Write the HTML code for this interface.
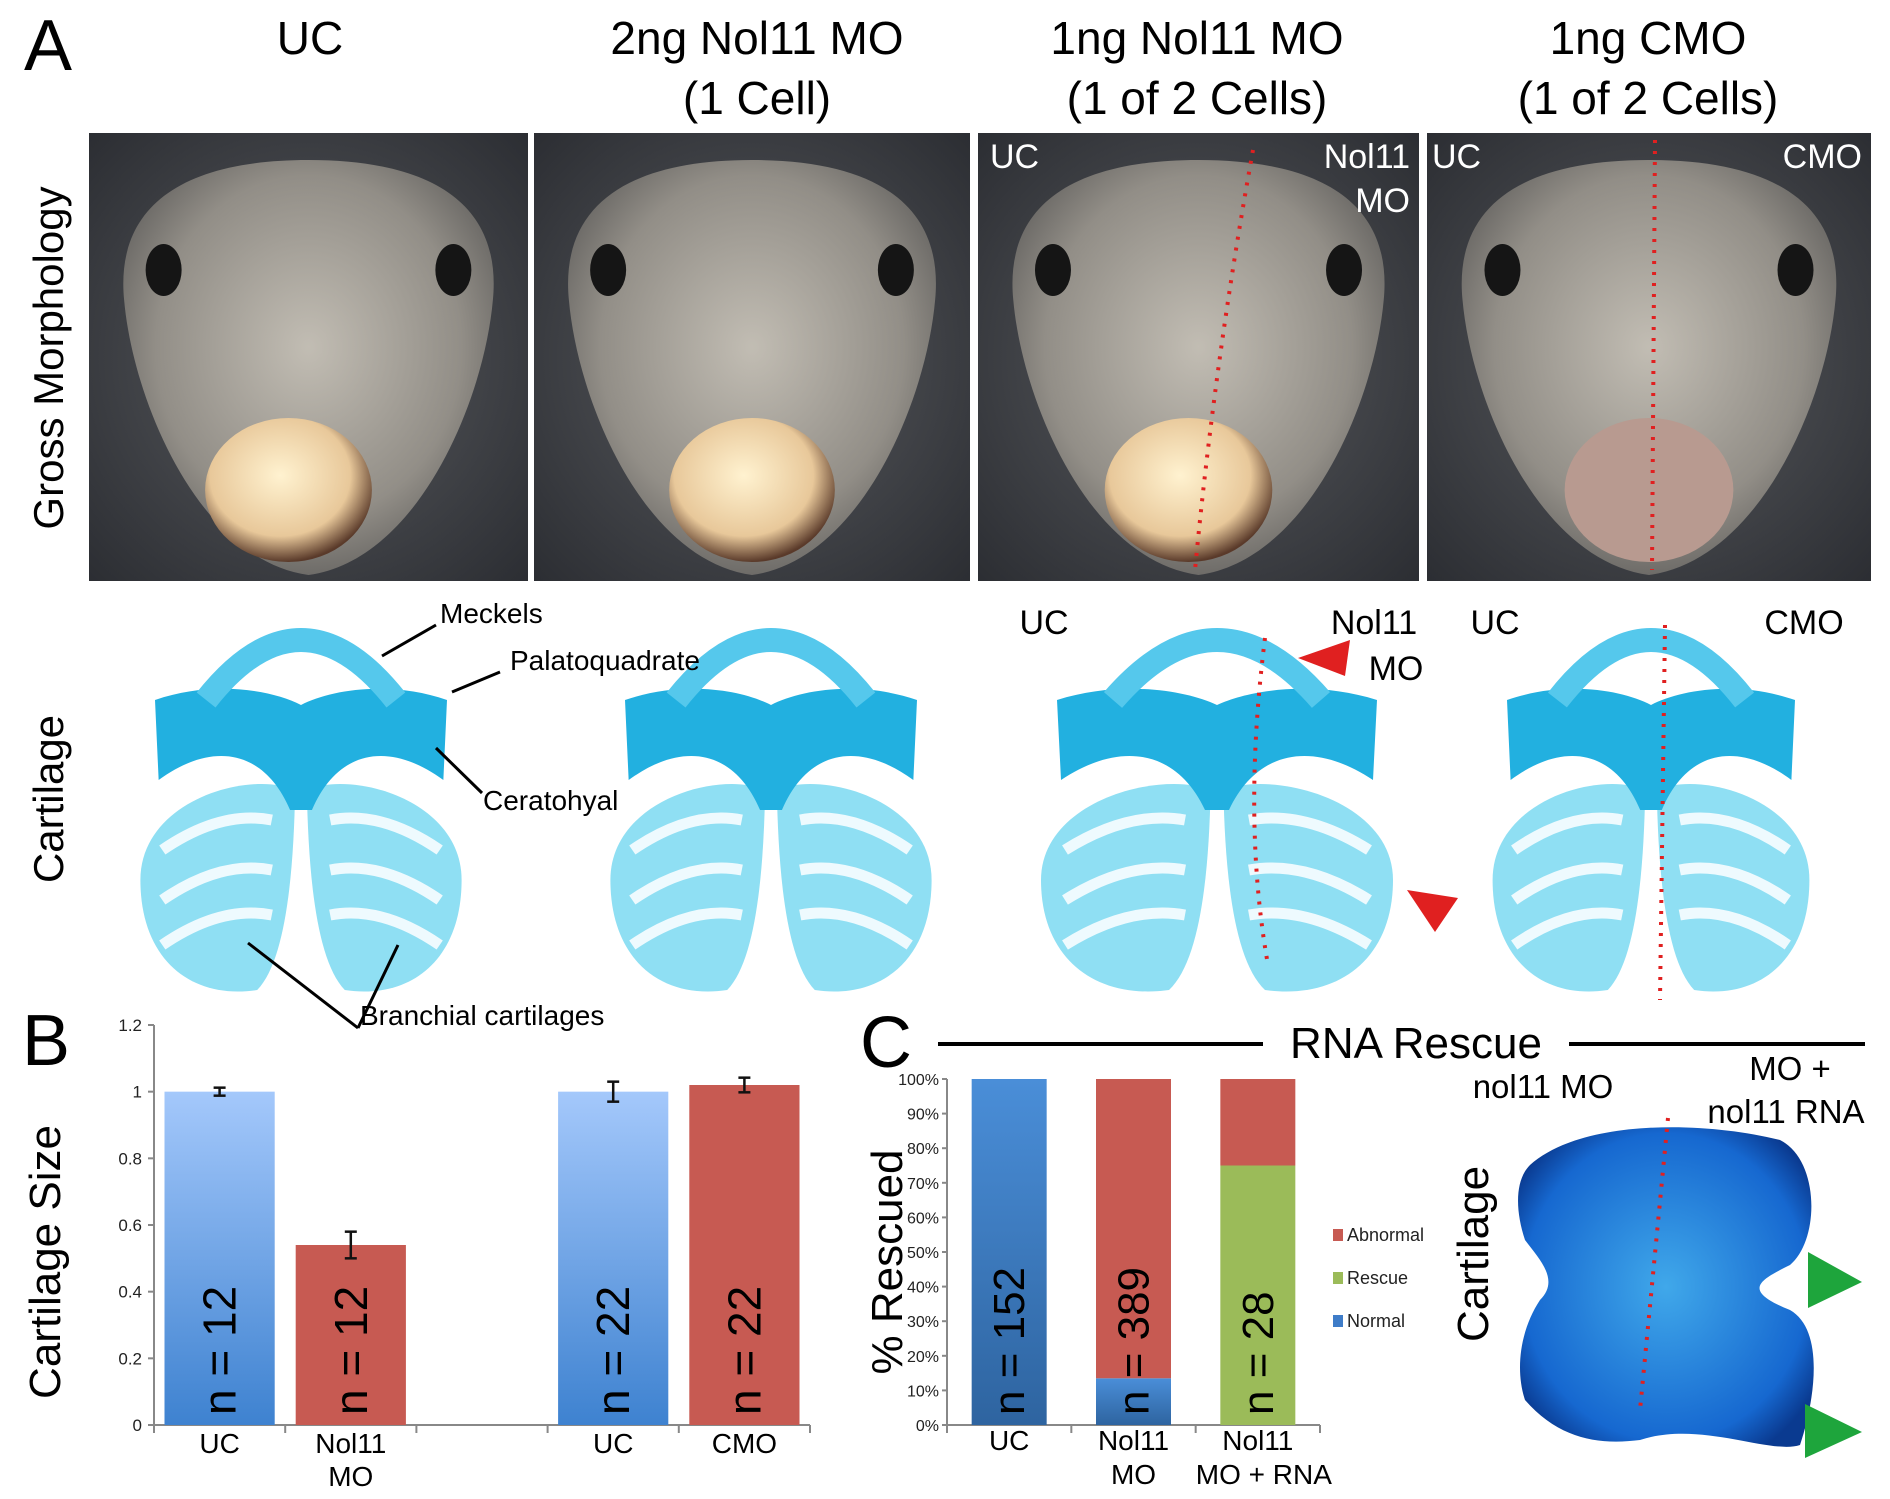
<!DOCTYPE html>
<html><head><meta charset="utf-8"><style>
html,body{margin:0;padding:0;background:#fff}
svg{display:block}
text{font-family:"Liberation Sans",sans-serif}
</style></head><body>
<svg id="fig" width="1890" height="1499" viewBox="0 0 1890 1499" xmlns="http://www.w3.org/2000/svg">
<defs>
<radialGradient id="bgA" cx="50%" cy="50%" r="70%"><stop offset="0" stop-color="#5a5c60"/><stop offset="1" stop-color="#2c2e33"/></radialGradient>
<radialGradient id="body" cx="50%" cy="45%" r="55%"><stop offset="0" stop-color="#d4cec2"/><stop offset="0.75" stop-color="#a09b92"/><stop offset="1" stop-color="#77746f"/></radialGradient>
<radialGradient id="yolk" cx="45%" cy="40%" r="60%"><stop offset="0" stop-color="#fff2d0"/><stop offset="0.7" stop-color="#e8c89a"/><stop offset="1" stop-color="#5a3a2a"/></radialGradient>
<linearGradient id="blueBar" x1="0" y1="0" x2="0" y2="1"><stop offset="0" stop-color="#a4c8fb"/><stop offset="1" stop-color="#3e82d0"/></linearGradient>
<linearGradient id="blueBarC" x1="0" y1="0" x2="0" y2="1"><stop offset="0" stop-color="#4a8ed8"/><stop offset="1" stop-color="#2e64a0"/></linearGradient>
<radialGradient id="rescueBlob" cx="50%" cy="50%" r="60%"><stop offset="0" stop-color="#40a8ea"/><stop offset="0.8" stop-color="#1668d0"/><stop offset="1" stop-color="#0a3a90"/></radialGradient>
</defs>
<g id="panelA"></g>
<g id="chartB"></g>
<g id="chartC"></g>
</svg>
<script>
// Chart B data
const bCategories = ["UC", "Nol11|MO", "", "UC", "CMO"];
const bValues = [1.0, 0.54, null, 1.0, 1.02];
const bErrors = [0.012, 0.04, null, 0.03, 0.022];
const bColors = ["blue", "red", null, "blue", "red"];
const bNLabels = ["n = 12", "n = 12", "", "n = 22", "n = 22"];
const bTicks = [0, 0.2, 0.4, 0.6, 0.8, 1, 1.2];
const bTickLabels = ["0", "0.2", "0.4", "0.6", "0.8", "1", "1.2"];
// Chart C data
const cCategories = ["UC", "Nol11|MO", "Nol11|MO + RNA"];
const cNormal = [100, 13.5, 0];
const cRescue = [0, 0, 75];
const cAbnormal = [0, 86.5, 25];
const cNLabels = ["n = 152", "n = 389", "n = 28"];
const cTicks = [0,10,20,30,40,50,60,70,80,90,100];
const cTickLabels = ["0%","10%","20%","30%","40%","50%","60%","70%","80%","90%","100%"];
const cLegend = ["Abnormal", "Rescue", "Normal"];

const NS = "http://www.w3.org/2000/svg";
function mk(parent, tag, attrs, txt){
  const e = document.createElementNS(NS, tag);
  for (const k in attrs) e.setAttribute(k, attrs[k]);
  if (txt !== undefined) e.textContent = txt;
  parent.appendChild(e);
  return e;
}

// ---------- Panel A ----------
const A = document.getElementById('panelA');
let t = mk(A,'text',{x:24,y:70,'font-size':72});t.textContent='A';


const heads = [[310,"UC",null],[757,"2ng Nol11 MO","(1 Cell)"],[1197,"1ng Nol11 MO","(1 of 2 Cells)"],[1648,"1ng CMO","(1 of 2 Cells)"]];
heads.forEach((h,i)=>{
  const g = mk(A,'text',{x:h[0],y:54,'font-size':46,'text-anchor':'middle'},h[1]);
  
  
  if(h[2]){const g2=mk(A,'text',{x:h[0],y:114,'font-size':46,'text-anchor':'middle'},h[2]);
  
  }
});
const rl1 = mk(A,'text',{x:0,y:0,'font-size':42,'text-anchor':'middle',transform:'translate(63,358) rotate(-90)'},'Gross Morphology');


const rl2 = mk(A,'text',{x:0,y:0,'font-size':42,'text-anchor':'middle',transform:'translate(63,799) rotate(-90)'},'Cartilage');



const photos = [[89,528],[534,970],[978,1419],[1427,1871]];
photos.forEach((p,i)=>{
  const g = mk(A,'g',{});
  
  
  const w=p[1]-p[0], cx=(p[0]+p[1])/2;
  mk(g,'rect',{x:p[0],y:133,width:w,height:448,fill:'url(#bgA)'});
  mk(g,'path',{d:`M${cx} 160 C${cx+w*0.3} 160 ${cx+w*0.44} 210 ${cx+w*0.42} 300 C${cx+w*0.4} 400 ${cx+w*0.25} 560 ${cx} 575 C${cx-w*0.25} 560 ${cx-w*0.4} 400 ${cx-w*0.42} 300 C${cx-w*0.44} 210 ${cx-w*0.3} 160 ${cx} 160Z`,fill:'url(#body)',opacity:0.85});
  mk(g,'ellipse',{cx:cx-w*0.33,cy:270,rx:18,ry:26,fill:'#151515'});
  mk(g,'ellipse',{cx:cx+w*0.33,cy:270,rx:18,ry:26,fill:'#151515'});
  const yx = [cx-20, cx, cx-10, cx][i];
  mk(g,'ellipse',{cx:yx,cy:490,rx:w*0.19,ry:72,fill:i==3?'#b89a90':'url(#yolk)'});
});
[[990,168,'UC','start'],[1410,168,'Nol11','end'],[1410,212,'MO','end'],[1432,168,'UC','start'],[1862,168,'CMO','end']].forEach(l=>{
  const e=mk(A,'text',{x:l[0],y:l[1],'font-size':34,fill:'#fff','text-anchor':l[3]},l[2]);
  
  
});
mk(A,'path',{d:'M1253 150 Q1215 360 1195 570',stroke:'#e02020','stroke-width':4,'stroke-dasharray':'3 8',fill:'none'});
mk(A,'path',{d:'M1655 140 L1652 570',stroke:'#e02020','stroke-width':4,'stroke-dasharray':'3 8',fill:'none'});

function cartilage(cx, s, label){
  const g = mk(A,'g',{transform:`translate(${cx},0)`});
  
  
  mk(g,'path',{d:`M${-8*s} 790 C${-70*s} 770 ${-220*s} 800 ${-220*s} 880 C${-220*s} 960 ${-150*s} 1000 ${-60*s} 990 C${-20*s} 960 ${-10*s} 870 ${-8*s} 790Z`,fill:'#8fdff3'});
  mk(g,'path',{d:`M${8*s} 790 C${70*s} 770 ${220*s} 800 ${220*s} 880 C${220*s} 960 ${150*s} 1000 ${60*s} 990 C${20*s} 960 ${10*s} 870 ${8*s} 790Z`,fill:'#8fdff3'});
  [850,900,945].forEach(y=>{
    mk(g,'path',{d:`M${-190*s} ${y} Q${-110*s} ${y-40} ${-40*s} ${y-30}`,stroke:'#fff','stroke-width':11,fill:'none',opacity:0.85});
    mk(g,'path',{d:`M${190*s} ${y} Q${110*s} ${y-40} ${40*s} ${y-30}`,stroke:'#fff','stroke-width':11,fill:'none',opacity:0.85});
  });
  mk(g,'path',{d:`M${-200*s} 700 C${-120*s} 680 ${-40*s} 690 0 705 C${40*s} 690 ${120*s} 680 ${200*s} 700 L${195*s} 780 C${120*s} 740 ${50*s} 750 ${15*s} 810 L${-15*s} 810 C${-50*s} 750 ${-120*s} 740 ${-195*s} 780Z`,fill:'#22b0e0'});
  mk(g,'path',{d:`M${-130*s} 700 Q0 580 ${130*s} 700`,stroke:'#55c8ec','stroke-width':24,fill:'none'});
}
cartilage(301,0.73,'cartilage-uc');
cartilage(771,0.73,'cartilage-2ng-mo');
cartilage(1217,0.8,'cartilage-1ng-mo');
cartilage(1651,0.72,'cartilage-cmo');
mk(A,'path',{d:'M1265 638 Q1242 820 1268 965',stroke:'#e02020','stroke-width':4,'stroke-dasharray':'3 8',fill:'none'});
mk(A,'path',{d:'M1665 625 L1660 1000',stroke:'#e02020','stroke-width':4,'stroke-dasharray':'3 8',fill:'none'});
mk(A,'polygon',{points:'1298,658 1350,640 1345,676',fill:'#e02020'});
mk(A,'polygon',{points:'1407,890 1458,898 1435,932',fill:'#e02020'});
[[440,623,'Meckels'],[510,670,'Palatoquadrate'],[483,810,'Ceratohyal'],[360,1025,'Branchial cartilages']].forEach(l=>{
  const e=mk(A,'text',{x:l[0],y:l[1],'font-size':28},l[2]);
  
  
});
[[436,625,382,656],[500,672,452,692],[482,793,436,748],[358,1028,248,943],[358,1028,398,945]].forEach(l=>{
  mk(A,'line',{x1:l[0],y1:l[1],x2:l[2],y2:l[3],stroke:'#000','stroke-width':3});
});
[[1044,634,'UC','middle'],[1374,634,'Nol11','middle'],[1396,680,'MO','middle'],[1495,634,'UC','middle'],[1804,634,'CMO','middle']].forEach(l=>{
  const e=mk(A,'text',{x:l[0],y:l[1],'font-size':34,'text-anchor':l[3]},l[2]);
  
  
});

// ---------- Chart B ----------
const B = document.getElementById('chartB');
const bx0=154, bx1=810, by0=1425, by1=1025, bMax=1.2;
const byS = v => by0 - (v/bMax)*(by0-by1);
const slotW = (bx1-bx0)/bCategories.length;
const bxS = i => bx0 + slotW*(i+0.5);
let e = mk(B,'text',{x:22,y:1065,'font-size':72},'B');


e = mk(B,'text',{x:0,y:0,'font-size':44,'text-anchor':'middle',transform:'translate(60,1262) rotate(-90)'},'Cartilage Size');


mk(B,'line',{x1:bx0,y1:by1,x2:bx0,y2:by0,stroke:'#888','stroke-width':2});
mk(B,'line',{x1:bx0,y1:by0,x2:bx1,y2:by0,stroke:'#888','stroke-width':2});
bTicks.forEach((v,i)=>{
  mk(B,'line',{x1:bx0-6,y1:byS(v),x2:bx0,y2:byS(v),stroke:'#888','stroke-width':2});
  const tl = mk(B,'text',{x:bx0-12,y:byS(v)+6,'font-size':17,'text-anchor':'end',fill:'#222'},bTickLabels[i]);
  
  
});
for(let i=0;i<=bCategories.length;i++) mk(B,'line',{x1:bx0+slotW*i,y1:by0,x2:bx0+slotW*i,y2:by0+8,stroke:'#888','stroke-width':2});
bCategories.forEach((c,i)=>{
  if(bValues[i]===null) return;
  const bw=slotW*0.84, x=bxS(i)-bw/2;
  const r = mk(B,'rect',{x:x,y:byS(bValues[i]),width:bw,height:by0-byS(bValues[i]),fill:bColors[i]=='blue'?'url(#blueBar)':'#c75a52'});
  
  
  const et=byS(bValues[i]+bErrors[i]), eb=byS(bValues[i]-bErrors[i]);
  mk(B,'line',{x1:bxS(i),y1:et,x2:bxS(i),y2:eb,stroke:'#111','stroke-width':2.5});
  mk(B,'line',{x1:bxS(i)-6,y1:et,x2:bxS(i)+6,y2:et,stroke:'#111','stroke-width':2.5});
  mk(B,'line',{x1:bxS(i)-6,y1:eb,x2:bxS(i)+6,y2:eb,stroke:'#111','stroke-width':2.5});
  const n = mk(B,'text',{x:0,y:0,'font-size':46,'text-anchor':'start',transform:`translate(${bxS(i)+16},1415) rotate(-90)`},bNLabels[i]);
  
  
  c.split('|').forEach((ln,k)=>{
    const l = mk(B,'text',{x:bxS(i),y:1453+k*33,'font-size':28,'text-anchor':'middle'},ln);
    
    
  });
});

// ---------- Chart C ----------
const C = document.getElementById('chartC');
const cx0=947, cx1=1320, cy0=1425, cy1=1079;
const cyS = v => cy0 - (v/100)*(cy0-cy1);
const cSlot = (cx1-cx0)/cCategories.length;
const cxS = i => cx0 + cSlot*(i+0.5);
e = mk(C,'text',{x:860,y:1067,'font-size':72},'C');


mk(C,'line',{x1:938,y1:1044,x2:1263,y2:1044,stroke:'#000','stroke-width':4});
mk(C,'line',{x1:1569,y1:1044,x2:1865,y2:1044,stroke:'#000','stroke-width':4});
e = mk(C,'text',{x:1416,y:1058,'font-size':44,'text-anchor':'middle'},'RNA Rescue');


e = mk(C,'text',{x:0,y:0,'font-size':44,'text-anchor':'middle',transform:'translate(902,1262) rotate(-90)'},'% Rescued');


mk(C,'line',{x1:cx0,y1:cy1,x2:cx0,y2:cy0,stroke:'#888','stroke-width':2});
mk(C,'line',{x1:cx0,y1:cy0,x2:cx1,y2:cy0,stroke:'#888','stroke-width':2});
cTicks.forEach((v,i)=>{
  mk(C,'line',{x1:cx0-5,y1:cyS(v),x2:cx0,y2:cyS(v),stroke:'#888','stroke-width':2});
  const tl = mk(C,'text',{x:cx0-8,y:cyS(v)+6,'font-size':16,'text-anchor':'end',fill:'#222'},cTickLabels[i]);
  
  
});
for(let i=0;i<=cCategories.length;i++) mk(C,'line',{x1:cx0+cSlot*i,y1:cy0,x2:cx0+cSlot*i,y2:cy0+8,stroke:'#888','stroke-width':2});
cCategories.forEach((c,i)=>{
  const bw=75, x=cxS(i)-bw/2;
  let base=0;
  [[cNormal[i],'url(#blueBarC)','normal'],[cRescue[i],'#9bbb59','rescue'],[cAbnormal[i],'#c75a52','abnormal']].forEach(s=>{
    if(s[0]<=0) return;
    const r = mk(C,'rect',{x:x,y:cyS(base+s[0]),width:bw,height:cyS(base)-cyS(base+s[0]),fill:s[1]});
    
    
    base+=s[0];
  });
  const n = mk(C,'text',{x:0,y:0,'font-size':44,'text-anchor':'start',transform:`translate(${cxS(i)+15},1415) rotate(-90)`},cNLabels[i]);
  
  
  c.split('|').forEach((ln,k)=>{
    const l = mk(C,'text',{x:cxS(i)+(k==1&&i==2?6:0),y:1450+k*34,'font-size':28,'text-anchor':'middle'},ln);
    
    
  });
});
const legCol = {"Abnormal":"#c75a52","Rescue":"#9bbb59","Normal":"#3e7cc8"};
cLegend.forEach((s,i)=>{
  const y = 1241+i*43;
  mk(C,'rect',{x:1333,y:y-12,width:10,height:12,fill:legCol[s]});
  const l = mk(C,'text',{x:1347,y:y,'font-size':18,fill:'#222'},s);
  
  
});
const R = mk(C,'g',{});


mk(R,'path',{d:'M1530 1165 C1580 1120 1700 1120 1780 1140 C1820 1160 1820 1240 1790 1265 C1760 1280 1740 1290 1790 1310 C1825 1330 1815 1400 1800 1445 C1770 1455 1700 1420 1640 1440 C1600 1445 1560 1440 1525 1400 C1515 1370 1520 1330 1540 1300 C1560 1280 1540 1260 1525 1240 C1515 1210 1515 1180 1530 1165Z',fill:'url(#rescueBlob)'});
mk(R,'path',{d:'M1668 1118 L1640 1410',stroke:'#e02020','stroke-width':4,'stroke-dasharray':'3 8',fill:'none'});
mk(R,'polygon',{points:'1808,1252 1862,1282 1808,1308',fill:'#1ea53c'});
mk(R,'polygon',{points:'1805,1404 1862,1432 1805,1458',fill:'#1ea53c'});
[[1543,1098,'nol11 MO'],[1790,1080,'MO +'],[1786,1123,'nol11 RNA']].forEach(l=>{
  const e2=mk(C,'text',{x:l[0],y:l[1],'font-size':33,'text-anchor':'middle'},l[2]);
  
  
});
e = mk(C,'text',{x:0,y:0,'font-size':44,'text-anchor':'middle',transform:'translate(1488,1254) rotate(-90)'},'Cartilage');


</script>
</body></html>
